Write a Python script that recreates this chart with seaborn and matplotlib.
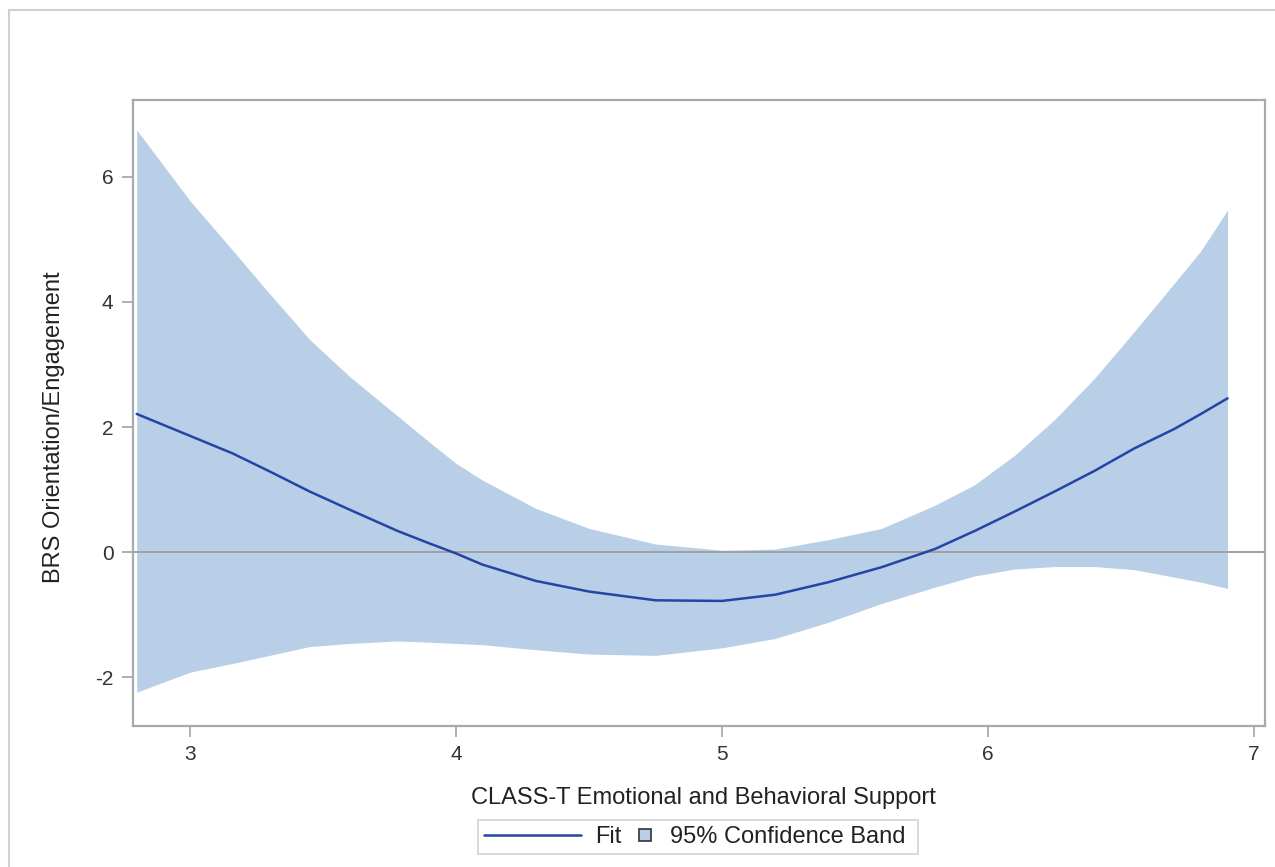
import matplotlib
matplotlib.use("Agg")
import matplotlib.pyplot as plt
import matplotlib.patches as mpatches
from matplotlib.legend_handler import HandlerPatch
from matplotlib.lines import Line2D
import pandas as pd
import seaborn as sns

# Values
x_vals = [2.8, 3.0, 3.16, 3.3, 3.45, 3.6, 3.78, 3.9, 4.0, 4.1, 4.3, 4.5, 4.75,
          5.0, 5.2, 5.4, 5.6, 5.8, 5.95, 6.1, 6.25, 6.4, 6.55, 6.7, 6.8, 6.9]
fit_vals = [2.21, 1.86, 1.58, 1.29, 0.97, 0.68, 0.34, 0.14, -0.02, -0.20, -0.46, -0.63, -0.77,
            -0.78, -0.68, -0.48, -0.24, 0.05, 0.34, 0.65, 0.97, 1.30, 1.66, 1.97, 2.21, 2.46]
upper_vals = [6.75, 5.62, 4.83, 4.13, 3.40, 2.81, 2.18, 1.76, 1.42, 1.15, 0.70, 0.38, 0.13,
              0.03, 0.05, 0.20, 0.38, 0.75, 1.08, 1.55, 2.12, 2.78, 3.53, 4.30, 4.82, 5.47]
lower_vals = [-2.24, -1.92, -1.78, -1.65, -1.51, -1.46, -1.42, -1.44, -1.46, -1.48, -1.56, -1.63, -1.65,
              -1.53, -1.38, -1.12, -0.82, -0.56, -0.38, -0.27, -0.23, -0.23, -0.28, -0.40, -0.48, -0.58]
x_ticks = [3, 4, 5, 6, 7]
y_ticks = [-2, 0, 2, 4, 6]

df = pd.DataFrame({"x": x_vals, "fit": fit_vals, "upper": upper_vals, "lower": lower_vals})

sns.set_style("white")
plt.rcParams["font.family"] = ["Liberation Sans", "DejaVu Sans"]
plt.rcParams["axes.unicode_minus"] = False

band_color = "#b9cfe7"
line_color = "#2445a5"
frame_color = "#a6aaae"

fig = plt.figure(figsize=(12.75, 8.67), dpi=100)
ax = fig.add_axes([0.1043, 0.1626, 0.8877, 0.7221])

ax.fill_between(df["x"], df["lower"], df["upper"], color=band_color, lw=0)
ax.axhline(0, color="#a0a0a0", lw=1.4, zorder=2)
sns.lineplot(data=df, x="x", y="fit", ax=ax, color=line_color, lw=1.8, zorder=3)

ax.set_xlim(2.786, 7.04)
ax.set_ylim(-2.78, 7.23)
ax.set_xticks(x_ticks)
ax.set_yticks(y_ticks)
ax.tick_params(axis="both", direction="out", length=8, width=1.3, color=frame_color,
               labelsize=15, labelcolor="#333333", pad=6, left=True, bottom=True)
for s in ax.spines.values():
    s.set_color(frame_color)
    s.set_linewidth(1.6)

ax.set_xlabel("CLASS-T Emotional and Behavioral Support", fontsize=17, color="#222222")
ax.set_ylabel("BRS Orientation/Engagement", fontsize=17, color="#222222")
ax.xaxis.set_label_coords(0.504, -0.097)
ax.yaxis.set_label_coords(-0.06, 0.478)

# outer border of the graph area
fig.patches.append(mpatches.Rectangle((9 / 1275, -0.05), 1.2, 1 - 10 / 867 + 0.05,
                                      transform=fig.transFigure, fill=False,
                                      edgecolor="#d0d0d0", lw=1.5))


def small_square(legend, orig_handle, xdescent, ydescent, width, height, fontsize):
    s = 8.5
    return mpatches.Rectangle((-xdescent + width - s - 3.6, -ydescent + (height - s) / 2), s, s)


fit_handle = Line2D([], [], color=line_color, lw=1.8)
band_handle = mpatches.Patch(facecolor=band_color, edgecolor="#333333", lw=1.2)
leg = fig.legend([fit_handle, band_handle], ["Fit", "95% Confidence Band "],
                 loc="center", bbox_to_anchor=(698 / 1275, 1 - 837 / 867), ncol=2,
                 fontsize=17, frameon=True, fancybox=False, handlelength=4.1,
                 handletextpad=0.6, columnspacing=-2.62, borderpad=0.25,
                 handler_map={mpatches.Patch: HandlerPatch(patch_func=small_square)})
leg.get_frame().set_edgecolor("#c8c8c8")
leg.get_frame().set_linewidth(1.2)
for t in leg.get_texts():
    t.set_color("#222222")

fig.savefig("out.png", dpi=100)
